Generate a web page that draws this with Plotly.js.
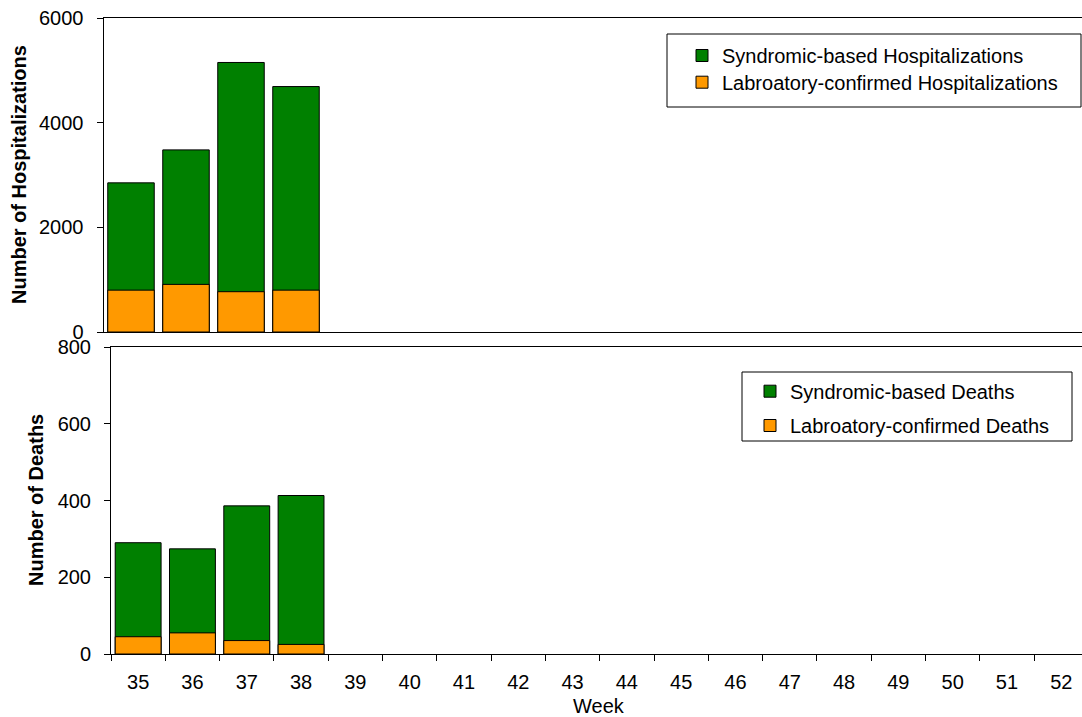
<!DOCTYPE html>
<html>
<head>
<meta charset="utf-8">
<script src="https://cdn.plot.ly/plotly-3.0.1.min.js"></script>
<style>html,body{margin:0;padding:0;background:#fff;}#chart{width:1082px;height:717px;}</style>
</head>
<body>
<div id="chart"></div>
<script>
const weeks = ["35","36","37","38","39","40","41","42","43","44","45","46","47","48","49","50","51","52"];
const syndromicHosp = [2850, 3480, 5150, 4690, null, null, null, null, null, null, null, null, null, null, null, null, null, null];
const labHosp = [800, 910, 770, 800, null, null, null, null, null, null, null, null, null, null, null, null, null, null];
const syndromicDeaths = [290, 274, 386, 413, null, null, null, null, null, null, null, null, null, null, null, null, null, null];
const labDeaths = [45, 55, 35, 25, null, null, null, null, null, null, null, null, null, null, null, null, null, null];
const hospTicks = [0, 2000, 4000, 6000];
const deathTicks = [0, 200, 400, 600, 800];

const GREEN = "#008000", ORANGE = "#FF9900";
const FONT = "Liberation Sans, Arial, sans-serif";
const W = 1082, H = 717;
const px = v => v / W;
const py = v => (H - v) / H;

const barLine = {color: "#000", width: 1};
const traces = [
  {type: "bar", x: weeks, y: syndromicHosp, name: "Syndromic-based Hospitalizations",
   marker: {color: GREEN, line: barLine}, xaxis: "x", yaxis: "y", legend: "legend", showlegend: true},
  {type: "bar", x: weeks, y: labHosp, name: "Labroatory-confirmed Hospitalizations",
   marker: {color: ORANGE, line: barLine}, xaxis: "x", yaxis: "y", legend: "legend2", showlegend: true},
  {type: "bar", x: weeks, y: syndromicDeaths, name: "Syndromic-based Deaths",
   marker: {color: GREEN, line: barLine}, xaxis: "x2", yaxis: "y2", legend: "legend3", showlegend: true},
  {type: "bar", x: weeks, y: labDeaths, name: "Labroatory-confirmed Deaths",
   marker: {color: ORANGE, line: barLine}, xaxis: "x2", yaxis: "y2", legend: "legend4", showlegend: true}
];

const tickFont = {family: FONT, size: 20, color: "#000"};
const legendFont = {family: FONT, size: 20, color: "#000"};
function legendAt(xLeft, centerY) {
  return {
    visible: true,
    x: px(xLeft), xanchor: "left", y: py(centerY - 19), yanchor: "top",
    bgcolor: "rgba(0,0,0,0)", borderwidth: 0, font: legendFont
  };
}

const layout = {
  width: W, height: H,
  margin: {l: 0, r: 0, t: 0, b: 0},
  paper_bgcolor: "#fff", plot_bgcolor: "#fff",
  showlegend: true,
  barmode: "overlay",
  bargap: 0.155,
  font: {family: FONT, size: 20, color: "#000"},
  xaxis: {
    domain: [px(103.5), 1], anchor: "y", type: "category",
    categoryorder: "array", categoryarray: weeks,
    range: [-0.5, -0.5 + (W - 103.5) / 55],
    showline: true, linecolor: "#000", linewidth: 1, mirror: true,
    showticklabels: false, ticks: "", showgrid: false, zeroline: false, fixedrange: true
  },
  yaxis: {
    domain: [py(332), py(18)], anchor: "x",
    range: [0, 6000], tickvals: hospTicks, ticktext: hospTicks.map(String),
    showline: true, linecolor: "#000", linewidth: 1, mirror: false,
    ticks: "outside", ticklen: 6, tickcolor: "#000", tickfont: tickFont, ticklabelstandoff: 9,
    showgrid: false, zeroline: false, fixedrange: true
  },
  xaxis2: {
    domain: [px(111), 1], anchor: "y2", type: "category",
    categoryorder: "array", categoryarray: weeks,
    range: [-0.5, -0.5 + (W - 111) / 54.3],
    showline: true, linecolor: "#000", linewidth: 1, mirror: true,
    ticks: "outside", tickson: "boundaries", ticklen: 6, tickcolor: "#000",
    tickfont: tickFont, ticklabelstandoff: 10,
    showgrid: false, zeroline: false, fixedrange: true
  },
  yaxis2: {
    domain: [py(654), py(347)], anchor: "x2",
    range: [0, 800], tickvals: deathTicks, ticktext: deathTicks.map(String),
    showline: true, linecolor: "#000", linewidth: 1, mirror: false,
    ticks: "outside", ticklen: 6, tickcolor: "#000", tickfont: tickFont, ticklabelstandoff: 9,
    showgrid: false, zeroline: false, fixedrange: true
  },
  legend: legendAt(682, 55),
  legend2: legendAt(682, 81.7),
  legend3: legendAt(750, 390.7),
  legend4: legendAt(750, 425),
  shapes: [
    {type: "rect", xref: "paper", yref: "paper", x0: px(667), x1: px(1081), y0: py(107), y1: py(34),
     line: {color: "#000", width: 1}, fillcolor: "#fff", layer: "above"},
    {type: "rect", xref: "paper", yref: "paper", x0: px(742), x1: px(1072), y0: py(441), y1: py(372),
     line: {color: "#000", width: 1}, fillcolor: "#fff", layer: "above"}
  ],
  annotations: [
    {text: "<b>Number of Hospitalizations</b>", xref: "paper", yref: "paper", x: px(19), y: py(175),
     xanchor: "center", yanchor: "middle", textangle: -90, showarrow: false,
     font: {family: FONT, size: 20, color: "#000"}},
    {text: "<b>Number of Deaths</b>", xref: "paper", yref: "paper", x: px(36), y: py(500),
     xanchor: "center", yanchor: "middle", textangle: -90, showarrow: false,
     font: {family: FONT, size: 20, color: "#000"}},
    {text: "Week", xref: "paper", yref: "paper", x: px(599), y: py(706),
     xanchor: "center", yanchor: "middle", showarrow: false,
     font: {family: FONT, size: 20, color: "#000"}}
  ]
};

Plotly.newPlot("chart", traces, layout, {displayModeBar: false, staticPlot: true});
</script>
</body>
</html>
